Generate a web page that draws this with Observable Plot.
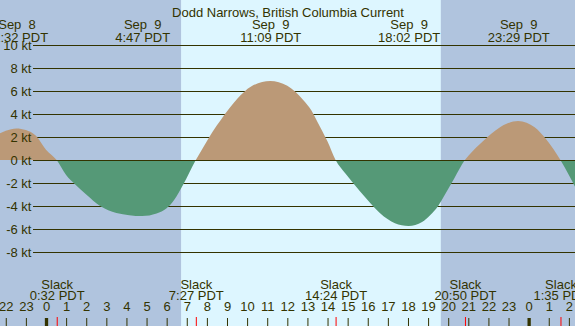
<!DOCTYPE html>
<html>
<head>
<meta charset="utf-8">
<script src="https://cdn.jsdelivr.net/npm/d3@7"></script>
<script src="https://cdn.jsdelivr.net/npm/@observablehq/plot@0.6"></script>
<style>
  html, body { margin: 0; padding: 0; background: #B0C4DE; }
  svg { display: block; }
</style>
</head>
<body>
<div id="chart"></div>
<script>
// ---- data ----
const title = "Dodd Narrows, British Columbia Current";

// current speed (kt), time in hours from Sep 9 00:00 PDT
const flowHours = [-2.6, -2.0, -1.47, -1.0, -0.5, 0.0, 0.53, 1.0, 1.44, 2.0, 2.69, 3.5, 4.78, 5.5, 6.0, 6.37, 6.81, 7.45,
  7.8, 8.3, 8.7, 9.1, 9.5, 10.2, 11.15, 12.0, 12.8, 13.2, 13.5, 14.0, 14.4,
  14.9, 15.6, 16.1, 16.6, 17.0, 17.35, 18.03, 18.7, 19.1, 19.5, 19.84, 20.3, 20.83,
  21.2, 21.58, 22.33, 22.9, 23.48, 23.9, 24.3, 24.9, 25.58, 26.0, 26.5];
const flowKt = [2.0, 2.55, 2.75, 2.6, 2.1, 0.9, 0, -1.3, -2.1, -3.0, -4.0, -4.6, -4.87, -4.65, -4.2, -3.48, -2.17, 0,
  1.05, 2.5, 3.5, 4.45, 5.3, 6.4, 6.87, 6.45, 5.2, 4.3, 3.3, 1.6, 0,
  -1.2, -2.7, -3.7, -4.6, -5.15, -5.5, -5.74, -5.4, -4.8, -4.0, -3.0, -1.6, 0,
  0.75, 1.4, 2.55, 3.15, 3.39, 3.25, 2.85, 1.74, 0, -1.3, -3.0];

// max flood / ebb events (top labels)
const maxDays = [8, 9, 9, 9, 9];
const maxTimes = ["22:32", "4:47", "11:09", "18:02", "23:29"];

// slack events (bottom labels)
const slackDays = [9, 9, 9, 9, 10];
const slackTimes = ["0:32", "7:27", "14:24", "20:50", "1:35"];

// sun
const sunrise = "6:43";
const sunset = "19:38";

// axis
const gridKt = [10, 8, 6, 4, 2, 0, -2, -4, -6, -8];
const hourTicks = d3.range(-2, 27);

// ---- helpers ----
const toH = (day, t) => { const [hh, mm] = t.split(":").map(Number); return (day - 9) * 24 + hh + mm / 60; };
const flow = flowHours.map((h, i) => ({h, v: flowKt[i]}));
const maxEvents = maxTimes.map((t, i) => ({h: toH(maxDays[i], t), date: `Sep  ${maxDays[i]}`, time: `${t} PDT`}));
const slackEvents = slackTimes.map((t, i) => ({h: toH(slackDays[i], t), time: `${t} PDT`}));

// ---- layout ----
const W = 575, H = 326;
const pxPerHour = 20.11, zeroX = 46;   // midnight Sep 9 at x=46
const pxPerKt = 11.5, zeroY = 160;     // 0 kt at y=160
const xDomain = [-zeroX / pxPerHour, (W - zeroX) / pxPerHour];
const yDomain = [-(H - zeroY) / pxPerKt, zeroY / pxPerKt];

const ink = "#333300";
const font = "Liberation Sans, Arial, sans-serif";

const svg = Plot.plot({
  width: W, height: H,
  margin: 0,
  x: {domain: xDomain, range: [0, W], axis: null},
  y: {domain: yDomain, range: [H, 0], axis: null},
  style: {background: "#B0C4DE", fontFamily: font, fontSize: "13px", color: ink},
  marks: [
    Plot.rect([{a: toH(9, sunrise), b: toH(9, sunset)}], {x1: "a", x2: "b", fill: "#DDF6FF"}),
    Plot.ruleY(gridKt, {y: d => d, stroke: ink, strokeWidth: 1, insetLeft: 33}),
    Plot.areaY(flow, {x: "h", y: "v", curve: "monotone-x", fill: "url(#flowfill)", clip: true}),
    Plot.ruleY([0], {stroke: ink, strokeWidth: 1, insetLeft: 33}),
    Plot.text(gridKt, {y: d => d, text: d => `${d} kt`, frameAnchor: "left", textAnchor: "end", dx: 31, fill: ink}),
    // title
    Plot.text([title], {frameAnchor: "top", dy: 7.5, fill: ink}),
    // top labels
    Plot.text(maxEvents, {x: "h", text: "date", frameAnchor: "top", dy: 19, fill: ink}),
    Plot.text(maxEvents, {x: "h", text: "time", frameAnchor: "top", dy: 31.8, fill: ink}),
    // slack labels
    Plot.text(slackEvents, {x: "h", text: () => "Slack", frameAnchor: "bottom", dy: -38, fill: ink}),
    Plot.text(slackEvents, {x: "h", text: "time", frameAnchor: "bottom", dy: -26.2, fill: ink}),
    // hour ticks
    Plot.ruleX(hourTicks.filter(h => h % 24 !== 0), {x: d => d, stroke: ink, insetTop: 318}),
    Plot.ruleX(hourTicks.filter(h => h % 24 === 0), {x: d => d, stroke: ink, strokeWidth: 3.3, insetTop: 318}),
    Plot.ruleX(slackEvents, {x: "h", stroke: "red", insetTop: 317}),
    Plot.text(hourTicks, {x: d => d, text: d => String(((d % 24) + 24) % 24), frameAnchor: "bottom", dy: -15.2, fill: ink})
  ]
});

// flood (above 0) / ebb (below 0) colouring via a hard-stop gradient at 0 kt
const z = svg.scale("y").apply(0) / H;
const ns = "http://www.w3.org/2000/svg";
const defs = document.createElementNS(ns, "defs");
const grad = document.createElementNS(ns, "linearGradient");
grad.setAttribute("id", "flowfill");
grad.setAttribute("gradientUnits", "userSpaceOnUse");
grad.setAttribute("x1", 0); grad.setAttribute("x2", 0);
grad.setAttribute("y1", 0); grad.setAttribute("y2", H);
[[0, "#BB9977"], [z, "#BB9977"], [z, "#559977"], [1, "#559977"]].forEach(([o, c]) => {
  const s = document.createElementNS(ns, "stop");
  s.setAttribute("offset", o); s.setAttribute("stop-color", c);
  grad.appendChild(s);
});
defs.appendChild(grad);
svg.insertBefore(defs, svg.firstChild);

document.getElementById("chart").appendChild(svg);
</script>
</body>
</html>
